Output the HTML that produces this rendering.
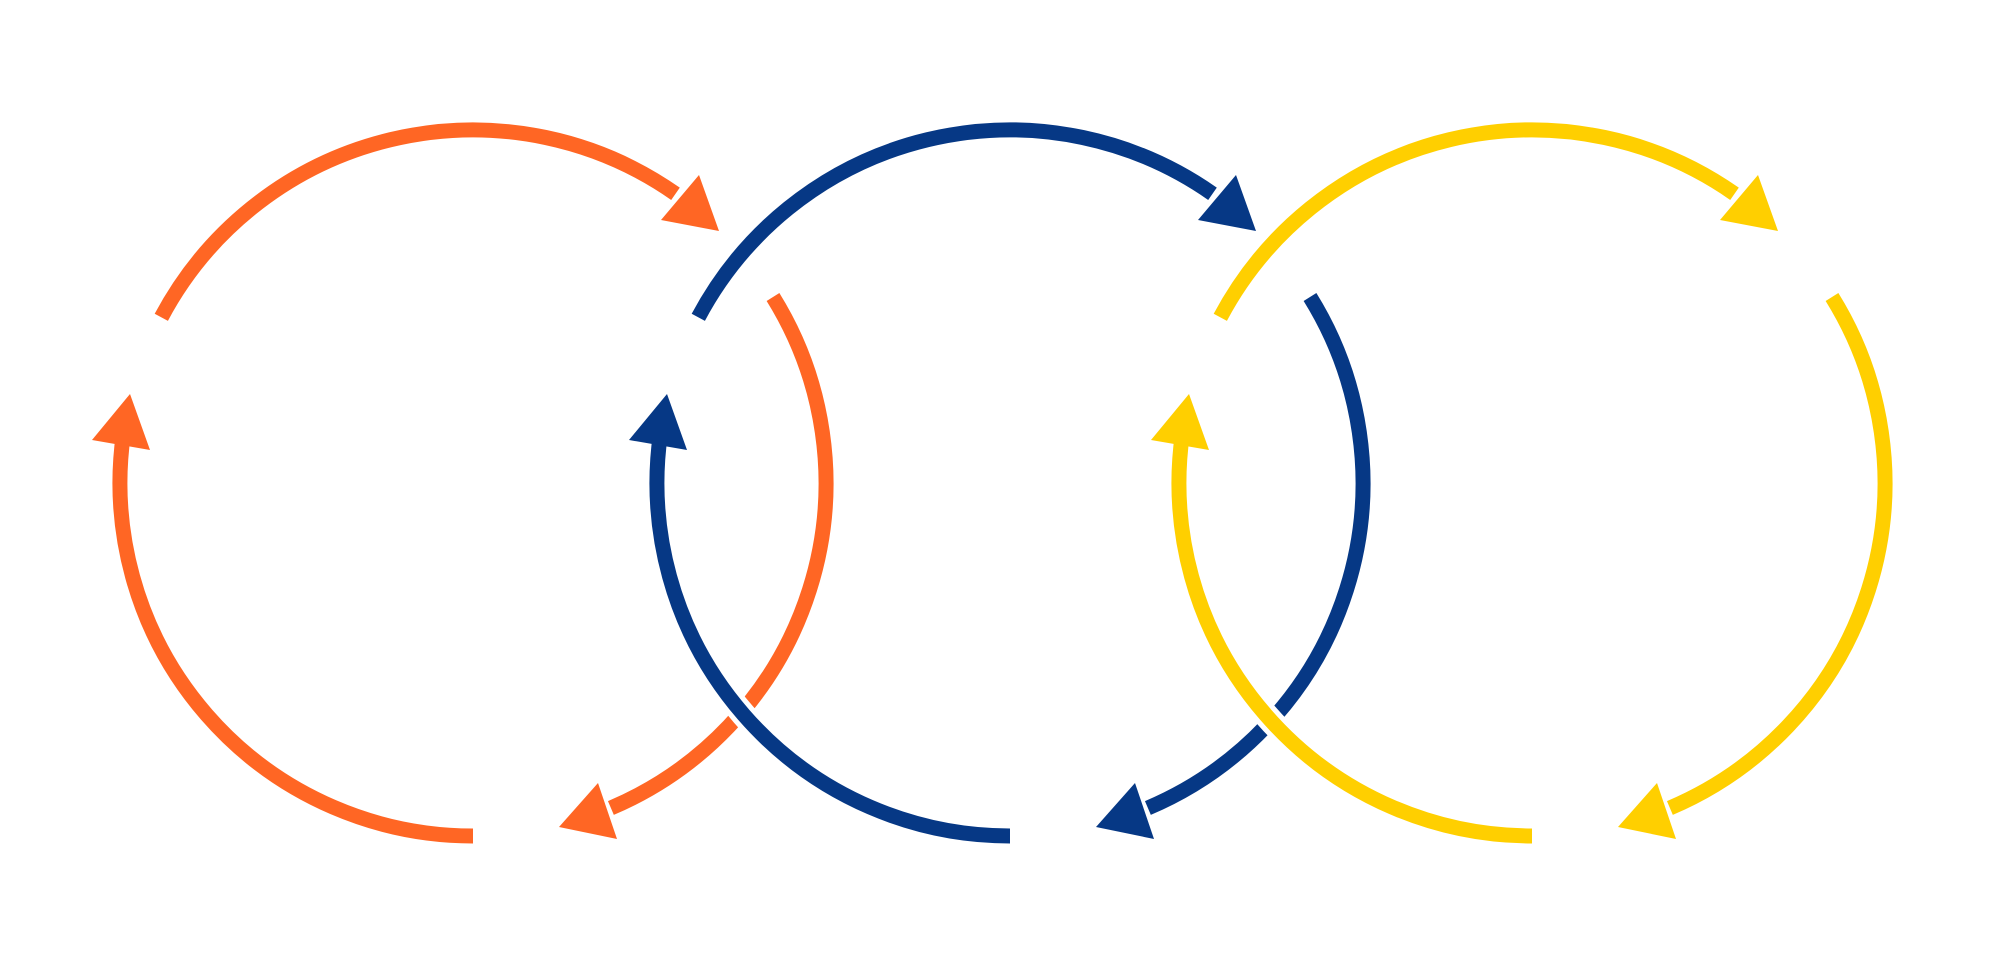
<!DOCTYPE html>
<html><head><meta charset="utf-8"><style>html,body{margin:0;padding:0;background:#fff;width:2000px;height:974px;overflow:hidden}</style></head>
<body>
<svg width="2000" height="974" viewBox="0 0 2000 974" xmlns="http://www.w3.org/2000/svg">
<defs>
<g id="ring">
  <path d="M161.3 317.3 A353 353 0 0 1 675.5 193.8" fill="none" stroke-width="15"/>
  <polygon points="719,231 699,175 661,220" stroke="none"/>
  <path d="M773 297 A353 353 0 0 1 610.9 808" fill="none" stroke-width="15"/>
  <polygon points="559,827 598,783 617,839" stroke="none"/>
  <path d="M473 836 A353 353 0 0 1 123.4 433.9" fill="none" stroke="#fff" stroke-width="25"/>
  <path d="M473 836 A353 353 0 0 1 123.4 433.9" fill="none" stroke-width="15"/>
  <polygon points="130,394 92,440 150,450" stroke="none"/>
</g>
</defs>
<g stroke="#FF6624" fill="#FF6624"><use href="#ring"/></g>
<g stroke="#063885" fill="#063885" transform="translate(537,0)"><use href="#ring"/></g>
<g stroke="#FFCF00" fill="#FFCF00" transform="translate(1059,0)"><use href="#ring"/></g>
</svg>
</body></html>
